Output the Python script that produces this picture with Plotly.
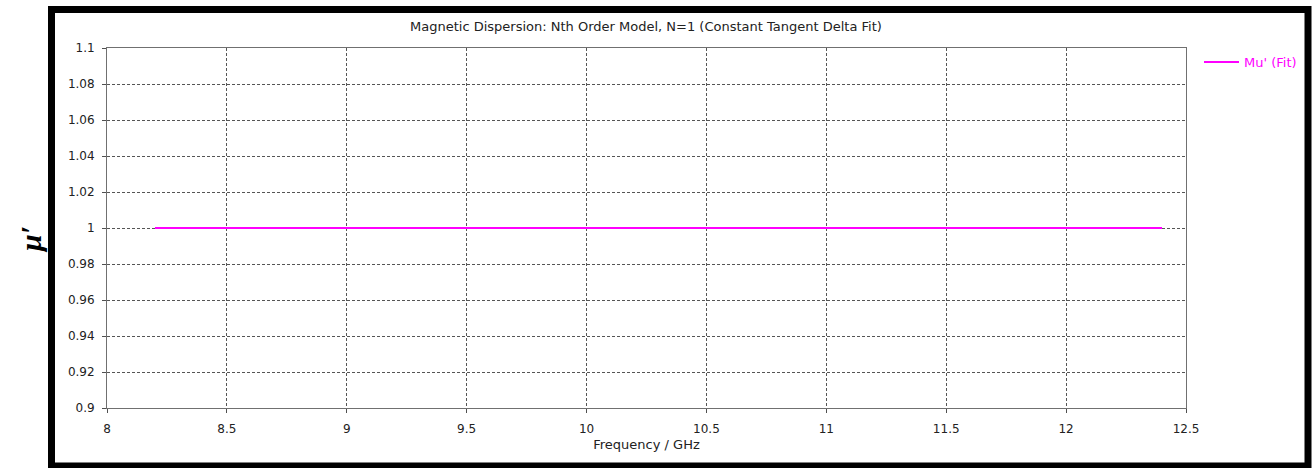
import plotly.graph_objects as go

# Fitted permeability (real part) across the X-band sweep
freq_ghz = [8.2, 12.4]
mu_fit = [1.0, 1.0]

x_ticks = [8, 8.5, 9, 9.5, 10, 10.5, 11, 11.5, 12, 12.5]
y_ticks = [0.9, 0.92, 0.94, 0.96, 0.98, 1.0, 1.02, 1.04, 1.06, 1.08, 1.1]
y_tick_text = ["0.9", "0.92", "0.94", "0.96", "0.98", "1", "1.02", "1.04", "1.06", "1.08", "1.1"]

W, H = 1315, 468
L, R, T, B = 107, 1186, 48, 408
pw, ph = R - L, B - T


def px(x):
    return (x - L) / pw


def py(y):
    return (B - y) / ph


font = "DejaVu Sans"
txt = "#222222"

fig = go.Figure()
fig.add_trace(go.Scatter(
    x=freq_ghz, y=mu_fit, mode="lines", name="Mu' (Fit)",
    line=dict(color="#ff00ff", width=2),
))

axis_common = dict(
    showline=True, linecolor="#707070", linewidth=1, mirror=True,
    ticks="outside", ticklen=4, tickcolor="#505050",
    showgrid=True, gridcolor="#555555", gridwidth=1, griddash="3px,2px",
    zeroline=False, tickfont=dict(family=font, size=12, color=txt),
)

fig.update_xaxes(range=[8, 12.5], tickvals=x_ticks, ticktext=[f"{v:g}" for v in x_ticks],
                 ticklabelstandoff=6,
                 title=dict(text="Frequency / GHz", font=dict(family=font, size=13, color=txt), standoff=4),
                 **axis_common)
fig.update_yaxes(range=[0.9, 1.1], tickvals=y_ticks, ticktext=y_tick_text,
                 ticklabelstandoff=5, **axis_common)

# outer frame
fig.add_shape(type="rect", xref="paper", yref="paper",
              x0=px(51.5), x1=px(1308), y0=py(9.5), y1=py(466),
              line=dict(color="black", width=7), layer="above")

fig.add_annotation(text="Magnetic Dispersion: Nth Order Model, N=1 (Constant Tangent Delta Fit)",
                   xref="paper", yref="paper", x=px(646), y=py(27), showarrow=False,
                   xanchor="center", yanchor="middle",
                   font=dict(family=font, size=13, color=txt))

fig.add_annotation(text="<b><i>μ′</i></b>", xref="paper", yref="paper",
                   x=px(30), y=py(240), showarrow=False, textangle=-90,
                   xanchor="center", yanchor="middle",
                   font=dict(family="Liberation Serif", size=30, color="black"))

fig.update_layout(
    width=W, height=H,
    margin=dict(l=L, r=W - R, t=T, b=H - B, pad=0),
    paper_bgcolor="white", plot_bgcolor="white",
    showlegend=True,
    legend=dict(x=px(1199), y=py(47), xanchor="left", yanchor="top",
                bgcolor="rgba(0,0,0,0)", font=dict(family=font, size=13, color="#ff00ff"),
                itemwidth=35),
)

fig.write_html("out.html")
